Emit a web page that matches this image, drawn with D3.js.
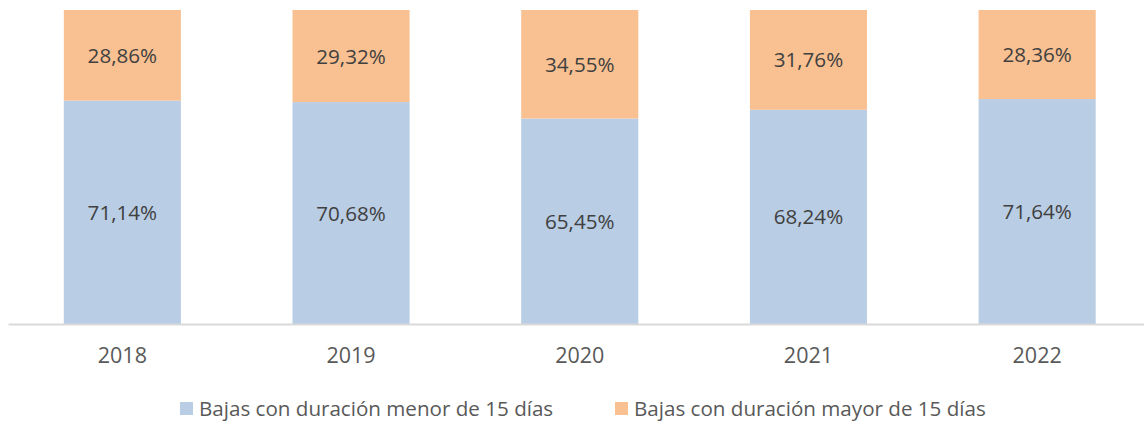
<!DOCTYPE html>
<html>
<head>
<meta charset="utf-8">
<script src="https://cdn.jsdelivr.net/npm/d3@7"></script>
<style>
  body { margin: 0; background: #fff; }
  svg text { font-family: "Open Sans", "Liberation Sans", sans-serif; }
</style>
</head>
<body>
<svg id="chart" width="1144" height="423"></svg>
<script>
// data
const years = ["2018", "2019", "2020", "2021", "2022"];
const menor = [71.14, 70.68, 65.45, 68.24, 71.64];
const mayor = [28.86, 29.32, 34.55, 31.76, 28.36];
const seriesNames = [
  "Bajas con duración menor de 15 días",
  "Bajas con duración mayor de 15 días",
];
const colors = ["#b9cde4", "#f9c091"];

const svg = d3.select("#chart");
const margin = { top: 10, bottom: 324, left: 8, right: 1151.5 };

const rows = years.map((y, i) => ({ year: y, menor: menor[i], mayor: mayor[i] }));
const stack = d3.stack().keys(["menor", "mayor"])(rows);

const x = d3
  .scaleBand()
  .domain(years)
  .range([margin.left, margin.right])
  .paddingInner(0.488)
  .paddingOuter(0.244);

const y = d3.scaleLinear().domain([0, 100]).range([margin.bottom, margin.top]);

const fmt = (v) => v.toFixed(2).replace(".", ",") + "%";

// bars
const layers = svg
  .append("g")
  .selectAll("g")
  .data(stack)
  .enter()
  .append("g")
  .attr("fill", (d, i) => colors[i]);

layers
  .selectAll("rect")
  .data((d) => d)
  .enter()
  .append("rect")
  .attr("x", (d) => x(d.data.year))
  .attr("width", x.bandwidth())
  .attr("y", (d) => y(d[1]))
  .attr("height", (d) => y(d[0]) - y(d[1]));

// value labels
layers
  .selectAll("text")
  .data((d) => d)
  .enter()
  .append("text")
  .attr("x", (d) => x(d.data.year) + x.bandwidth() / 2)
  .attr("y", (d) => (y(d[0]) + y(d[1])) / 2)
  .attr("dy", "0.37em")
  .attr("text-anchor", "middle")
  .attr("fill", "#404040")
  .style("font-size", "20.6px")
  .text((d) => fmt(d[1] - d[0]));

// x axis
const xAxis = svg
  .append("g")
  .attr("transform", "translate(0," + margin.bottom + ")")
  .call(d3.axisBottom(x).tickSize(0));
xAxis.select(".domain").attr("stroke", "#d9d9d9").attr("stroke-width", 2);
xAxis
  .selectAll("text")
  .attr("y", 39)
  .attr("dy", 0)
  .attr("fill", "#595959")
  .style("font-size", "21.5px")
  .style("font-family", '"Open Sans", "Liberation Sans", sans-serif');

// legend
const legendX = [180, 615];
const legend = svg
  .append("g")
  .selectAll("g")
  .data(seriesNames)
  .enter()
  .append("g")
  .attr("transform", (d, i) => "translate(" + legendX[i] + ",402)");

legend
  .append("rect")
  .attr("width", 13)
  .attr("height", 13)
  .attr("fill", (d, i) => colors[i]);

legend
  .append("text")
  .attr("x", 19)
  .attr("y", 14)
  .attr("fill", "#595959")
  .style("font-size", "20.6px")
  .text((d) => d);
</script>
</body>
</html>
